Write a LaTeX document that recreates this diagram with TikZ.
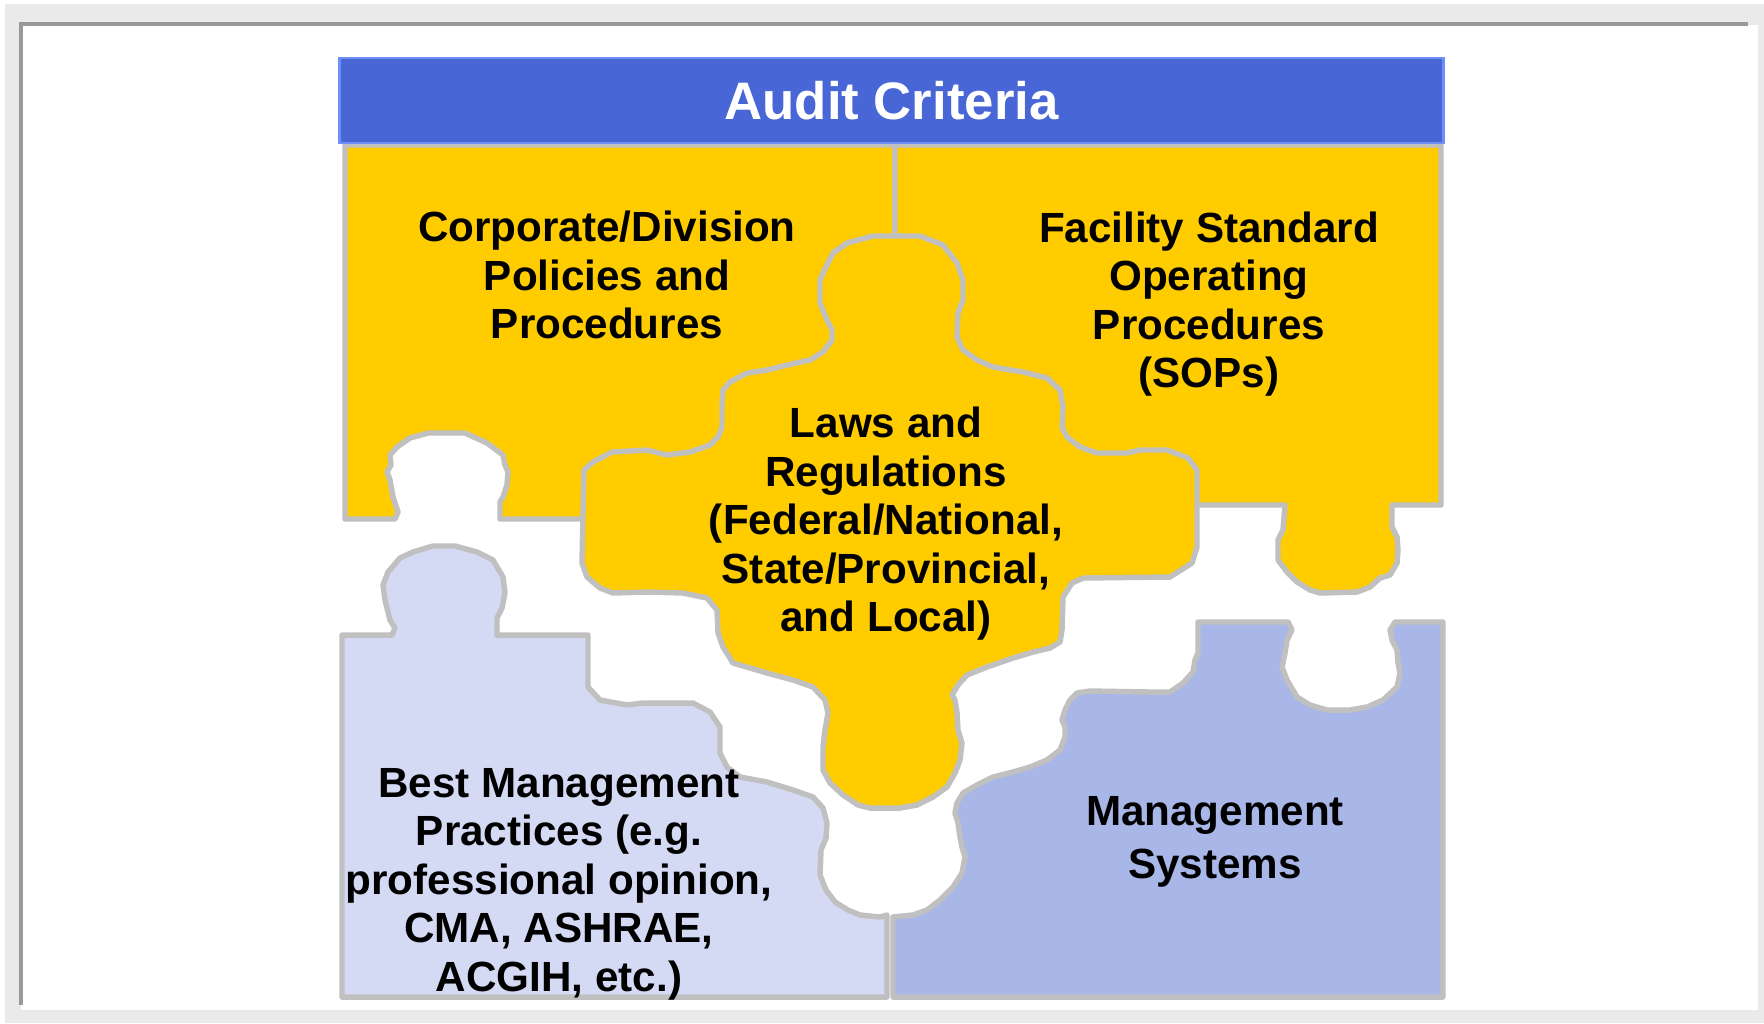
\documentclass[tikz,border=0pt]{standalone}
\usepackage{fontspec}
\setmainfont{Liberation Sans}
\usepackage{tikz}
\definecolor{framegray}{HTML}{EAEAEA}
\definecolor{framedark}{HTML}{999999}
\definecolor{headblue}{HTML}{4866D6}
\definecolor{headedge}{HTML}{6E8EF8}
\definecolor{pieceyellow}{HTML}{FFCC00}
\definecolor{edgegray}{HTML}{C0C0C0}
\definecolor{palelilac}{HTML}{D4D9F4}
\definecolor{midblue}{HTML}{A8B6E8}

\begin{document}
\begin{tikzpicture}[x=0.01cm,y=-0.01cm
        ,piece/.style = {draw=edgegray,line width=1.55pt,line join=round}
        ,piecetext/.style = {font=\bfseries\fontsize{12}{13.8}\selectfont, align=center, inner sep=0pt}
        ,header/.style = {fill=headblue, draw=headedge, line width=0.8pt, minimum width=11.03cm, minimum height=0.85cm, inner sep=0pt, text=white, font=\bfseries\fontsize{15}{18}\selectfont}
      ]

      \useasboundingbox (0,0) rectangle (1764,1023);
      \fill[framegray] (5,4) rectangle (1764,1023);
      \fill[white] (21,25) rectangle (1758,1010);
      \draw[framedark,line width=1.15pt] (21,1005) -- (21,24) -- (1748,24);

      \draw[piece,fill=pieceyellow] (345,145) -- (895,145) -- (895,519) -- (500,519) -- (500,502) -- (503,497) -- (507,485) -- (508,472) -- (505,465) -- (503,455) -- (487,443) -- (465,433) -- (428,433) -- (410,438) -- (397,447) -- (390,455) -- (391,465) -- (387,472) -- (390,480) -- (393,497) -- (398,512) -- (395,519) -- (345,519) -- cycle;
      \draw[piece,fill=pieceyellow] (895,145) -- (1441,145) -- (1441,505) -- (1392,505) -- (1392,527) -- (1397,537) -- (1398,550) -- (1397,563) -- (1390,575) -- (1380,578) -- (1370,587) -- (1357,592) -- (1320,593) -- (1310,590) -- (1297,582) -- (1287,572) -- (1278,560) -- (1278,540) -- (1283,530) -- (1285,505) -- (895,505) -- cycle;
      \draw[piece,fill=palelilac] (342,635) -- (392,635) -- (395,628) -- (390,620) -- (385,600) -- (383,585) -- (388,572) -- (400,558) -- (413,552) -- (433,546) -- (455,546) -- (477,552) -- (493,560) -- (503,577) -- (505,593) -- (502,608) -- (497,618) -- (497,635) -- (588,635) -- (588,687) -- (600,700) -- (627,705) -- (643,703) -- (693,703) -- (710,712) -- (720,727) -- (720,753) -- (727,767) -- (740,777) -- (767,782) -- (793,790) -- (813,797) -- (823,808) -- (827,823) -- (826,838) -- (821,850) -- (820,875) -- (826,890) -- (835,902) -- (848,910) -- (860,915) -- (880,917) -- (887,915) -- (887,997) -- (342,997) -- cycle;
      \draw[piece,fill=midblue] (893,997) -- (893,917) -- (913,915) -- (927,910) -- (940,900) -- (953,887) -- (962,873) -- (965,857) -- (962,847) -- (960,837) -- (958,823) -- (955,813) -- (957,803) -- (963,793) -- (977,785) -- (993,777) -- (1013,772) -- (1030,767) -- (1047,760) -- (1060,750) -- (1065,737) -- (1065,727) -- (1062,720) -- (1065,710) -- (1070,700) -- (1077,693) -- (1090,691) -- (1150,692) -- (1170,692) -- (1183,683) -- (1193,672) -- (1195,660) -- (1198,653) -- (1198,622) -- (1288,622) -- (1292,630) -- (1287,640) -- (1285,653) -- (1282,667) -- (1287,680) -- (1297,697) -- (1310,705) -- (1327,710) -- (1350,710) -- (1367,707) -- (1383,700) -- (1397,687) -- (1400,673) -- (1398,663) -- (1397,650) -- (1392,640) -- (1390,630) -- (1395,622) -- (1443,622) -- (1443,997) -- cycle;
      \draw[piece,fill=pieceyellow] (895,236) -- (920,236) -- (943,245) -- (957,263) -- (963,280) -- (963,300) -- (958,313) -- (957,337) -- (963,350) -- (977,360) -- (993,367) -- (1023,372) -- (1047,378) -- (1060,390) -- (1063,407) -- (1062,427) -- (1067,437) -- (1080,447) -- (1097,453) -- (1127,453) -- (1140,450) -- (1167,450) -- (1188,458) -- (1197,470) -- (1197,547) -- (1192,563) -- (1170,577) -- (1083,578) -- (1072,583) -- (1063,597) -- (1062,630) -- (1060,642) -- (1050,648) -- (1033,652) -- (1013,658) -- (987,667) -- (967,675) -- (958,685) -- (952,695) -- (955,700) -- (957,713) -- (958,730) -- (962,743) -- (960,760) -- (955,773) -- (947,787) -- (933,797) -- (917,805) -- (900,808) -- (870,808) -- (858,805) -- (843,795) -- (830,783) -- (823,770) -- (823,747) -- (825,730) -- (828,713) -- (825,700) -- (813,687) -- (793,680) -- (767,673) -- (750,668) -- (733,663) -- (723,647) -- (718,633) -- (717,610) -- (707,598) -- (683,593) -- (647,592) -- (613,593) -- (600,588) -- (587,577) -- (582,563) -- (583,513) -- (584,470) -- (593,462) -- (612,452) -- (647,450) -- (667,455) -- (690,452) -- (710,445) -- (718,437) -- (722,427) -- (722,402) -- (723,390) -- (730,382) -- (747,373) -- (767,370) -- (787,365) -- (810,360) -- (823,352) -- (832,340) -- (832,330) -- (827,320) -- (820,303) -- (820,280) -- (823,273) -- (833,253) -- (847,243) -- (873,236) -- cycle;

      \node[header] (title) at (891.5,100.5) {Audit Criteria};
      \node[piecetext] (corp) at (607,275) {Corporate/Division\\Policies and\\Procedures};
      \node[piecetext] (facility) at (1209,304) {Facility Standard\\Operating\\Procedures\\(SOPs)};
      \node[piecetext] (laws) at (886,524) {Laws and\\Regulations\\(Federal/National,\\State/Provincial,\\and Local)};
      \node[piecetext] (bmp) at (559,884) {Best Management\\Practices (e.g.\\professional opinion,\\CMA, ASHRAE,\\ACGIH, etc.)};
      \node[piecetext,font=\bfseries\fontsize{12}{15}\selectfont] (mgmt) at (1215,842) {Management\\Systems};
    \end{tikzpicture}
\end{document}
